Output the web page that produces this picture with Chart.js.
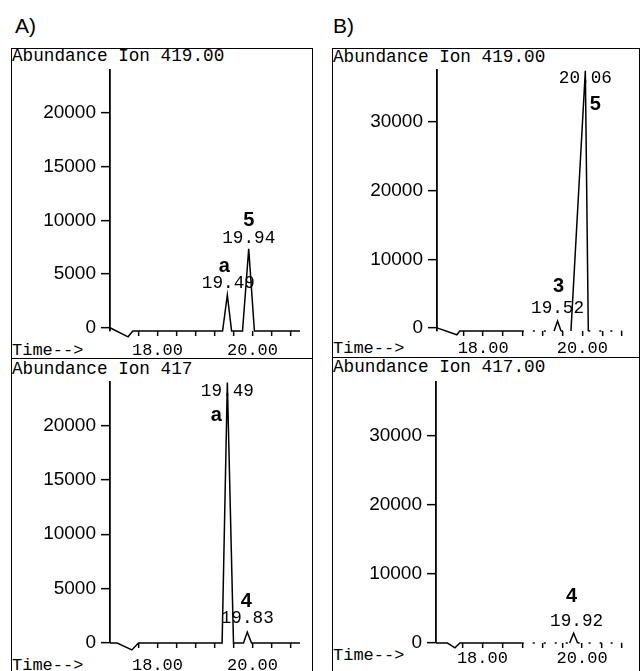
<!DOCTYPE html>
<html><head><meta charset="utf-8">
<script src="https://cdn.jsdelivr.net/npm/chart.js@4/dist/chart.umd.min.js"></script>
<style>
html,body{margin:0;padding:0;background:#fff;width:642px;height:671px;overflow:hidden;}
body{position:relative;}
.box{position:absolute;border:1.5px solid #000;box-sizing:border-box;}
.hl{position:absolute;height:0;border-top:1.5px solid #000;}
.txt{position:absolute;white-space:pre;color:#000;line-height:1;margin:0;}
.mono{font-family:"Liberation Mono","DejaVu Sans Mono",monospace;}
.sans{font-family:"Liberation Sans",Arial,sans-serif;}
canvas{position:absolute;}
</style></head><body>

<div class="txt sans" style="left:15px;top:15px;font-size:21px;">A)</div>
<div class="txt sans" style="left:333px;top:15px;font-size:21px;">B)</div>

<div class="box" style="left:11px;top:48px;width:302px;height:626px;"></div>
<div class="hl" style="left:11px;top:358px;width:302px;"></div>
<div class="box" style="left:332px;top:48px;width:308px;height:626px;"></div>
<div class="hl" style="left:332px;top:357px;width:308px;"></div>

<div id="tA1" class="txt mono" style="left:12px;top:48.4px;font-size:17.7px;"></div>
<div id="tA2" class="txt mono" style="left:12px;top:361.4px;font-size:17.7px;"></div>
<div id="tB1" class="txt mono" style="left:333px;top:49.4px;font-size:17.7px;"></div>
<div id="tB2" class="txt mono" style="left:333px;top:359.4px;font-size:17.7px;"></div>

<div id="xA1" class="txt mono" style="left:12px;top:342px;font-size:17px;"></div>
<div id="xA2" class="txt mono" style="left:12px;top:657px;font-size:17px;"></div>
<div id="xB1" class="txt mono" style="left:333px;top:340px;font-size:17px;"></div>
<div id="xB2" class="txt mono" style="left:333px;top:647px;font-size:17px;"></div>

<canvas id="cA1" width="302" height="311" style="left:11px;top:48px;width:302px;height:311px;"></canvas>
<canvas id="cA2" width="302" height="312" style="left:11px;top:359px;width:302px;height:312px;"></canvas>
<canvas id="cB1" width="308" height="311" style="left:332px;top:48px;width:308px;height:311px;"></canvas>
<canvas id="cB2" width="308" height="312" style="left:332px;top:359px;width:308px;height:312px;"></canvas>

<script>
// ---------- text ----------
const panelTitles = ['Abundance Ion 419.00', 'Abundance Ion 417', 'Abundance Ion 419.00', 'Abundance Ion 417.00'];
const timeAxisLabel = 'Time-->';

// ---------- tick values / labels ----------
const xTickValues = [17.6, 18.0, 18.4, 18.8, 19.2, 19.6, 20.0, 20.4, 20.8];
const xTickLabelValues = [18.0, 20.0];
const xTickLabels = ['18.00', '20.00'];
const yTicksA = [0, 5000, 10000, 15000, 20000];
const yTicksB = [0, 10000, 20000, 30000];

// ---------- traces (retention time, abundance) ----------
// A) Ion 419.00
const aTopTime  = [17.00, 17.38, 17.48, 19.37, 19.47, 19.56, 19.79, 19.92, 20.04, 21.00];
const aTopAbund = [0, -840, -300, -300, 3050, -300, -300, 7350, -300, -300];
// A) Ion 417
const aBotTime  = [17.00, 17.15, 17.46, 17.60, 19.36, 19.47, 19.60, 19.81, 19.89, 19.98, 21.00];
const aBotAbund = [0, 0, -640, 0, 0, 23950, 0, 0, 1000, 0, 0];
// B) Ion 419.00
const bTopTime  = [17.07, 17.47, 17.53, 18.78, 19.43, 19.50, 19.57, 19.77, 20.06, 20.12, 20.80];
const bTopAbund = [0, -1000, -450, -450, -450, 1000, -450, -450, 37500, -450, -450];
// B) Ion 417.00
const bBotTime  = [17.07, 17.30, 17.45, 17.55, 18.79, 19.75, 19.83, 19.91, 20.80];
const bBotAbund = [0, 0, -700, 0, 0, 0, 1400, 0, 0];

// ---------- peak annotations ----------
const aTopPeakTime = [19.47, 19.92];
const aTopPeakRT   = ['19.49', '19.94'];
const aTopPeakID   = ['a', '5'];
const aBotPeakTime = [19.47, 19.89];
const aBotPeakRT   = ['19.49', '19.83'];
const aBotPeakID   = ['a', '4'];
const bTopPeakTime = [20.06, 19.50];
const bTopPeakRT   = ['20.06', '19.52'];
const bTopPeakID   = ['5', '3'];
const bBotPeakTime = [19.83];
const bBotPeakRT   = ['19.92'];
const bBotPeakID   = ['4'];

['tA1','tA2','tB1','tB2'].forEach((id,i)=>{document.getElementById(id).textContent = panelTitles[i];});
['xA1','xA2','xB1','xB2'].forEach(id=>{document.getElementById(id).textContent = timeAxisLabel;});

const peakLabelPlugin = {
  id: 'peakLabels',
  afterDatasetsDraw(chart, args, opts) {
    const ctx = chart.ctx, xs = chart.scales.x, ys = chart.scales.y;
    const ds = chart.data.datasets[0].data;
    ctx.save();
    ctx.fillStyle = '#000';
    ctx.textAlign = 'center';
    ctx.textBaseline = 'alphabetic';
    opts.times.forEach((t, i) => {
      let best = ds[0];
      ds.forEach(p => { if (Math.abs(p.x - t) < Math.abs(best.x - t)) best = p; });
      const px = xs.getPixelForValue(t), py = ys.getPixelForValue(best.y);
      const off = opts.offsets[i];
      ctx.font = '17.7px "Liberation Mono", monospace';
      ctx.fillText(opts.rt[i], px + off.rt[0], py + off.rt[1]);
      ctx.font = 'bold 20px "Liberation Sans", Arial, sans-serif';
      ctx.fillText(opts.ids[i], px + off.id[0], py + off.id[1]);
    });
    ctx.restore();
  }
};

function makeChart(id, p) {
  const data = p.time.map((t, i) => ({x: t, y: p.abund[i]}));
  return new Chart(document.getElementById(id), {
    type: 'line',
    data: {datasets: [{
      data: data,
      borderColor: '#000',
      borderWidth: 1.5,
      pointRadius: 0,
      tension: 0,
      fill: false,
      clip: false,
      segment: {
        borderDash: c => (p.dashFrom !== null && c.p0.parsed.x >= p.dashFrom - 1e-6 && c.p0.parsed.y === c.p1.parsed.y) ? [2, 9] : undefined
      }
    }]},
    plugins: [peakLabelPlugin],
    options: {
      responsive: false,
      animation: false,
      events: [],
      layout: {padding: {top: p.padTop, right: p.padRight, left: 0, bottom: 0}},
      plugins: {
        legend: {display: false},
        tooltip: {enabled: false},
        peakLabels: {times: p.peakTime, rt: p.peakRT, ids: p.peakID, offsets: p.labelOffsets}
      },
      scales: {
        x: {
          type: 'linear', min: p.xMin, max: p.xMax,
          afterFit: s => { s.height = p.xAxisH; },
          afterBuildTicks: s => { s.ticks = xTickValues.map(v => ({value: v})); },
          grid: {display: true, drawOnChartArea: false, drawTicks: true, tickLength: 5, color: '#000', lineWidth: 1.3, tickColor: '#000', tickWidth: 1.5},
          border: {display: false},
          ticks: {
            autoSkip: false, maxRotation: 0, minRotation: 0, padding: p.xPad, color: '#000',
            font: {family: '"Liberation Mono", monospace', size: 17},
            callback: v => { const k = xTickLabelValues.findIndex(q => Math.abs(q - v) < 1e-6); return k >= 0 ? xTickLabels[k] : ''; }
          }
        },
        y: {
          type: 'linear', min: p.yMin, max: p.yMax,
          afterFit: s => { s.width = p.yAxisW; },
          afterBuildTicks: s => { s.ticks = p.yTicks.map(v => ({value: v})); },
          grid: {display: true, drawOnChartArea: false, drawTicks: true, tickLength: 9, color: '#000', lineWidth: 1.3, tickColor: '#000', tickWidth: 1.5},
          border: {display: true, color: '#000', width: 1.8},
          ticks: {padding: 5, color: '#000', font: {family: '"Liberation Sans", Arial, sans-serif', size: 19}, callback: v => String(v)}
        }
      }
    }
  });
}

makeChart('cA1', {time: aTopTime, abund: aTopAbund, xMin: 17.0, xMax: 21.105, yMin: -300, yMax: 24000, yTicks: yTicksA,
  yAxisW: 99, padTop: 22, padRight: 8, xAxisH: 28, xPad: 4, dashFrom: null,
  peakTime: aTopPeakTime, peakRT: aTopPeakRT, peakID: aTopPeakID,
  labelOffsets: [{rt: [1, -7], id: [-3, -23]}, {rt: [0, -6], id: [0, -23]}]});
makeChart('cA2', {time: aBotTime, abund: aBotAbund, xMin: 17.0, xMax: 21.105, yMin: 0, yMax: 24000, yTicks: yTicksA,
  yAxisW: 99, padTop: 23, padRight: 8, xAxisH: 28, xPad: 7, dashFrom: null,
  peakTime: aBotPeakTime, peakRT: aBotPeakRT, peakID: aBotPeakID,
  labelOffsets: [{rt: [0, 13], id: [-11, 38]}, {rt: [0, -9], id: [-1, -25]}]});
makeChart('cB1', {time: bTopTime, abund: bTopAbund, xMin: 17.07, xMax: 20.92, yMin: -450, yMax: 37600, yTicks: yTicksB,
  yAxisW: 105, padTop: 22, padRight: 12, xAxisH: 28, xPad: 2, dashFrom: 18.78,
  peakTime: bTopPeakTime, peakRT: bTopPeakRT, peakID: bTopPeakID,
  labelOffsets: [{rt: [0, 12], id: [10, 39]}, {rt: [0, -8], id: [1, -29]}]});
makeChart('cB2', {time: bBotTime, abund: bBotAbund, xMin: 17.07, xMax: 20.92, yMin: 0, yMax: 37800, yTicks: yTicksB,
  yAxisW: 104, padTop: 23, padRight: 12, xAxisH: 28, xPad: 0, dashFrom: 18.79,
  peakTime: bBotPeakTime, peakRT: bBotPeakRT, peakID: bBotPeakID,
  labelOffsets: [{rt: [3, -7], id: [-2, -31]}]});
</script>
</body></html>
